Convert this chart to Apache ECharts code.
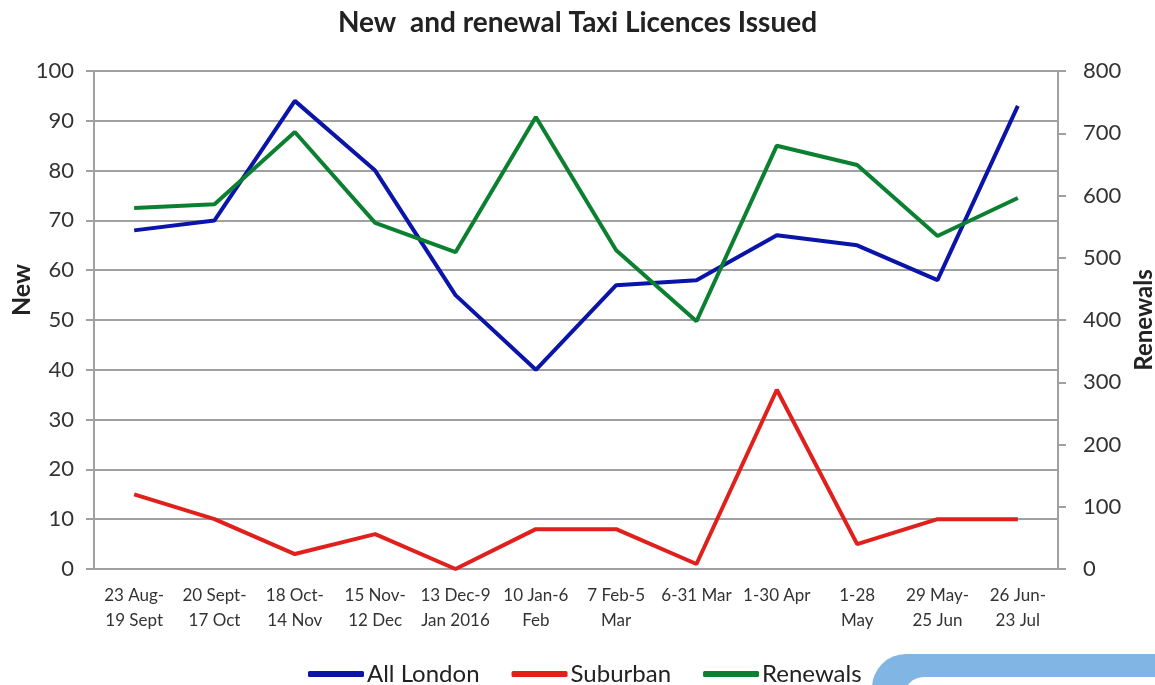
<!DOCTYPE html>
<html>
<head>
<meta charset="utf-8">
<script src="https://cdn.jsdelivr.net/npm/echarts@6/dist/echarts.min.js"></script>
<style>
  html, body { margin: 0; padding: 0; background: #fff; }
  #chart { width: 1155px; height: 685px; }
</style>
</head>
<body>
<div id="chart"></div>
<script>
const periods = [
  '23 Aug-\n19 Sept', '20 Sept-\n17 Oct', '18 Oct-\n14 Nov', '15 Nov-\n12 Dec',
  '13 Dec-9\nJan 2016', '10 Jan-6\nFeb', '7 Feb-5\nMar', '6-31 Mar',
  '1-30 Apr', '1-28\nMay', '29 May-\n25 Jun', '26 Jun-\n23 Jul'
]
const allLondon = [68, 70, 94, 80, 55, 40, 57, 58, 67, 65, 58, 93]
const suburban = [15, 10, 3, 7, 0, 8, 8, 1, 36, 5, 10, 10]
const renewals = [580, 586, 702, 556, 509, 726, 512, 398, 680, 649, 535, 596]

const font = 'Lato, "Noto Sans", sans-serif'
const grey = '#a0a0a0'

const chart = echarts.init(document.getElementById('chart'))
chart.setOption({
  animation: false,
  textStyle: { fontFamily: font },
  title: {
    text: 'New  and renewal Taxi Licences Issued',
    left: 'center',
    top: 4,
    textStyle: { fontSize: 28, fontWeight: 'bold', color: '#222', fontFamily: font }
  },
  legend: {
    bottom: -6,
    left: 303,
    itemWidth: 56,
    itemHeight: 6,
    itemGap: 32,
    icon: 'roundRect',
    textStyle: { fontSize: 24, color: '#222', padding: [0, 0, 0, -2] },
    data: ['All London', 'Suburban', 'Renewals']
  },
  grid: { left: 94, right: 97, top: 71, bottom: 116, outerBoundsMode: 'none' },
  xAxis: {
    type: 'category',
    data: periods,
    boundaryGap: true,
    axisLine: { lineStyle: { color: grey, width: 2 } },
    axisTick: { length: 6, lineStyle: { color: grey, width: 2 } },
    axisLabel: { color: '#333', fontSize: 17, lineHeight: 25, margin: 14, interval: 0 }
  },
  yAxis: [
    {
      type: 'value',
      min: 0, max: 100, interval: 10,
      name: 'New',
      nameLocation: 'middle',
      nameGap: 60,
      nameMoveOverlap: false,
      nameTextStyle: { fontSize: 25, fontWeight: 'bold', color: '#222', padding: [0, 0, 0, 60] },
      axisLine: { show: true, lineStyle: { color: grey, width: 2 } },
      axisTick: { show: true, length: 8, lineStyle: { color: grey, width: 2 } },
      axisLabel: { color: '#333', fontSize: 22, margin: 20 },
      splitLine: { lineStyle: { color: grey, width: 2 } }
    },
    {
      type: 'value',
      min: 0, max: 800, interval: 100,
      name: 'Renewals',
      nameLocation: 'middle',
      nameGap: 73,
      nameRotate: 90,
      nameTextStyle: { fontSize: 24, fontWeight: 'bold', color: '#222' },
      axisLine: { show: true, lineStyle: { color: grey, width: 2 } },
      axisTick: { show: true, length: 8, lineStyle: { color: grey, width: 2 } },
      axisLabel: { color: '#333', fontSize: 22, margin: 25 },
      splitLine: { show: false }
    }
  ],
  series: [
    {
      name: 'All London', type: 'line', data: allLondon, yAxisIndex: 0,
      symbol: 'none', lineStyle: { width: 4, color: '#0a14a8' }, itemStyle: { color: '#0a14a8' }
    },
    {
      name: 'Suburban', type: 'line', data: suburban, yAxisIndex: 0,
      symbol: 'none', lineStyle: { width: 4, color: '#e0201c' }, itemStyle: { color: '#e0201c' }
    },
    {
      name: 'Renewals', type: 'line', data: renewals, yAxisIndex: 1,
      symbol: 'none', lineStyle: { width: 4, color: '#0a8030' }, itemStyle: { color: '#0a8030' }
    }
  ],
  graphic: [
    {
      type: 'rect', left: 872, top: 654, z: 1,
      shape: { width: 360, height: 80, r: 34 },
      style: { fill: '#80b5e4' }
    },
    {
      type: 'rect', left: 904, top: 677, z: 2,
      shape: { width: 320, height: 60, r: 20 },
      style: { fill: '#ffffff' }
    }
  ]
})
</script>
</body>
</html>
